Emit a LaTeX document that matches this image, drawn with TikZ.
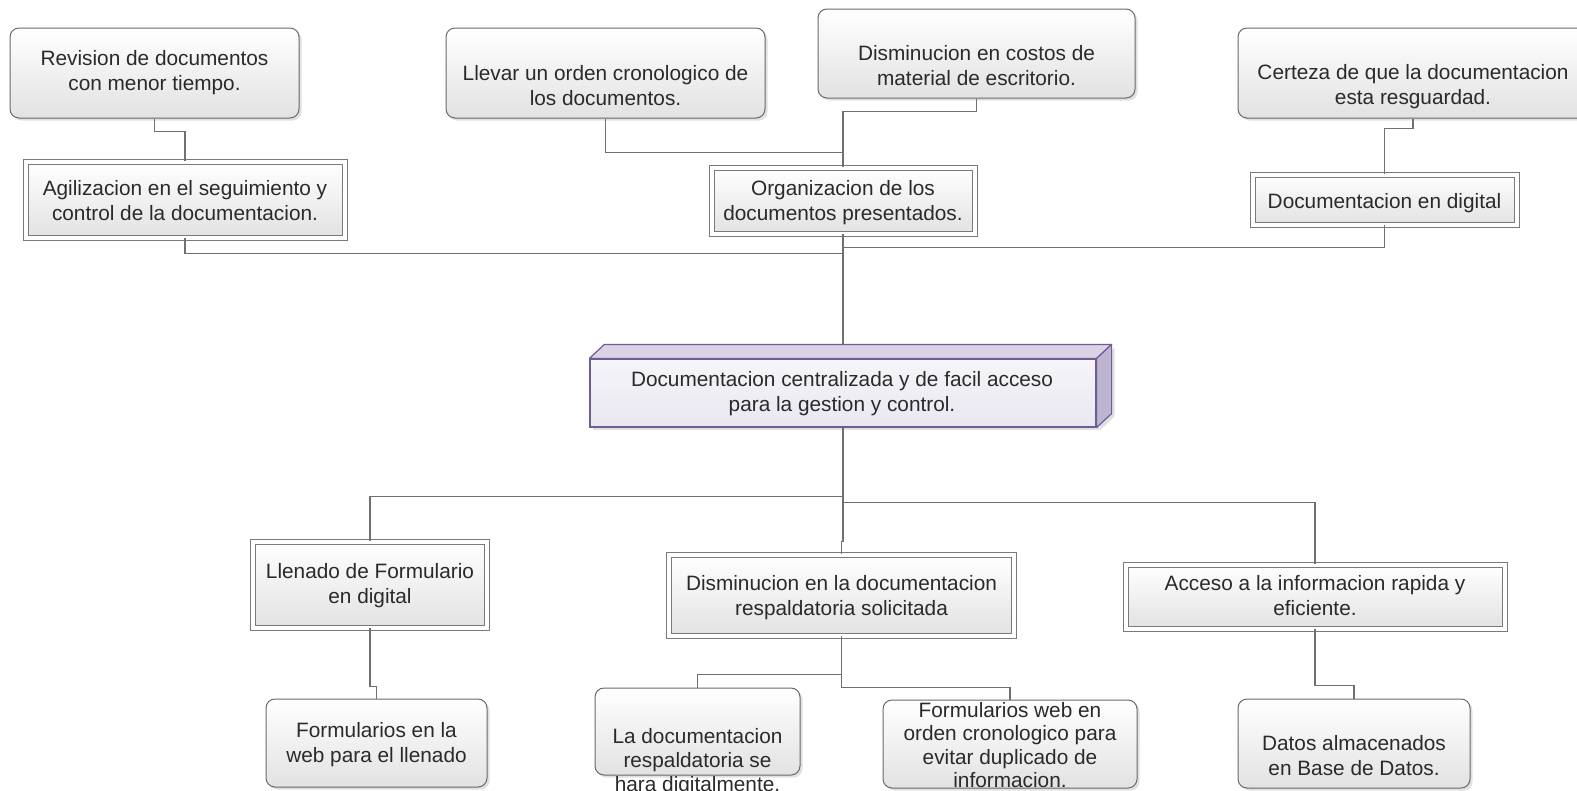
\documentclass[tikz,border=0pt]{standalone}
\usepackage{fontspec}
\setmainfont{Liberation Sans}
\usetikzlibrary{calc,shadows}

\definecolor{linegray}{HTML}{707070}
\definecolor{boxedge}{HTML}{6A6A6A}
\definecolor{frameedge}{HTML}{7A7A7A}
\definecolor{boxfill}{HTML}{E2E2E2}
\definecolor{ink}{HTML}{2A2A2A}
\definecolor{cubeedge}{HTML}{6F5C95}
\definecolor{cubefronttop}{HTML}{F6F5F9}
\definecolor{cubefrontbot}{HTML}{EAE7F0}
\definecolor{cubetop}{HTML}{D9D3E4}
\definecolor{cubeside}{HTML}{BDB4CF}

\begin{document}
\begin{tikzpicture}[x=1pt,y=-1pt,
  conn/.style={draw=linegray,line width=1.1pt},
  softbox/.style={rectangle,rounded corners=9pt,draw=boxedge,line width=1pt,
    top color=white,bottom color=boxfill,inner sep=0pt,
    drop shadow={shadow xshift=2.5pt,shadow yshift=-2.5pt,fill=black,opacity=0.12}},
  framebox/.style={rectangle,draw=frameedge,line width=1pt,double=white,
    double distance=4pt,top color=white,bottom color=boxfill,inner sep=0pt},
  lbl/.style={align=center,text=ink,inner sep=0pt,
    font=\fontsize{20.8}{25}\selectfont},
]
\useasboundingbox (0,0) rectangle (1577,790);
\clip (0,0) rectangle (1577,790);

% ---------- outer (top) ideas
\node[softbox,minimum width=289pt,minimum height=90pt] (rev)  at (154.5,73) {};
\node[softbox,minimum width=319pt,minimum height=90pt] (llev) at (605.5,73) {};
\node[softbox,minimum width=317pt,minimum height=89pt] (cost) at (976.5,53.5) {};
\node[softbox,minimum width=350pt,minimum height=90pt] (cert) at (1413,73) {};

% ---------- second level
\node[framebox,minimum width=319pt,minimum height=76pt] (agil) at (185,199.5) {};
\node[framebox,minimum width=263pt,minimum height=66pt] (org)  at (843,200.5) {};
\node[framebox,minimum width=264pt,minimum height=50pt] (ddig) at (1384.5,199.5) {};

% ---------- lower level
\node[framebox,minimum width=234pt,minimum height=86pt] (llen) at (370,584.5) {};
\node[framebox,minimum width=345pt,minimum height=81pt] (disr) at (841.5,595) {};
\node[framebox,minimum width=379pt,minimum height=64pt] (acc)  at (1315,596.5) {};

\node[softbox,minimum width=221pt,minimum height=88pt] (fweb)  at (376.5,743) {};
\node[softbox,minimum width=205pt,minimum height=87pt] (ladoc) at (697.5,731.5) {};
\node[softbox,minimum width=254pt,minimum height=88pt] (fwo)   at (1010,744) {};
\node[softbox,minimum width=232pt,minimum height=89pt] (dat)   at (1354,743.5) {};

% ---------- central block (front face)
\node[rectangle,draw=cubeedge,line width=1.2pt,top color=cubefronttop,
  bottom color=cubefrontbot,minimum width=506pt,minimum height=68pt,inner sep=0pt,
  drop shadow={shadow xshift=3pt,shadow yshift=-3pt,fill=black,opacity=0.12}]
  (core) at (843,393) {};

% ---------- connectors
\draw[conn] (rev.south) -- ($(rev.south)+(0,13)$) -| (agil.north);
\draw[conn] (llev.south) -- ($(llev.south)+(0,34)$) -| (org.north);
\draw[conn] (cost.south) -- ($(cost.south)+(0,13)$) -| (org.north);
\draw[conn] (cert.south) -- ($(cert.south)+(0,10)$) -| (ddig.north);
\draw[conn] (agil.south) |- ($(org.south)+(0,19.5)$);
\draw[conn] (ddig.south) |- ($(org.south)+(0,13.5)$);
\draw[conn] (org.south) -- (core.north);
\draw[conn] (core.south) -- ($(core.south)+(0,114)$) -| (disr.north);
\draw[conn] ($(core.south)+(0,69)$) -| (llen.north);
\draw[conn] ($(core.south)+(0,75)$) -| (acc.north);
\draw[conn] (disr.south) -- ($(disr.south)+(0,38.5)$) -| (ladoc.north);
\draw[conn] (disr.south) |- ($(fwo.north)+(0,-12)$) -- (fwo.north);
\draw[conn] (llen.south) |- ($(fweb.north)+(0,-12)$) -- (fweb.north);
\draw[conn] (acc.south) |- ($(dat.north)+(0,-13)$) -- (dat.north);

% ---------- central block (top and side faces, drawn over the trunk)
\filldraw[fill=cubetop,draw=cubeedge,line width=1.2pt,line join=round]
  (core.north west) -- ++(15,-14) -- ($(core.north east)+(15,-14)$)
  -- (core.north east) -- cycle;
\filldraw[fill=cubeside,draw=cubeedge,line width=1.2pt,line join=round,
  drop shadow={shadow xshift=3pt,shadow yshift=-3pt,fill=black,opacity=0.12}]
  (core.north east) -- ++(15,-14) -- ($(core.south east)+(15,-14)$)
  -- (core.south east) -- cycle;

% ---------- texts
\node[lbl] (revt)  at (154.5,73) {Revision de documentos\\con menor tiempo.};
\node[lbl] (llevt) at (605.5,86) {Llevar un orden cronologico de\\los documentos.};
\node[lbl] (costt) at (976.5,65.5) {Disminucion en costos de\\material de escritorio.};
\node[lbl] (certt) at (1413,87) {Certeza de que la documentacion\\esta resguardad.};
\node[lbl] (agilt) at (185,200.5) {Agilizacion en el seguimiento y\\control de la documentacion.};
\node[lbl] (orgt)  at (843,202.5) {Organizacion de los\\documentos presentados.};
\node[lbl] (ddigt) at (1384.5,203) {Documentacion en digital};
\node[lbl] (coret) at (842,394) {Documentacion centralizada y de facil acceso\\para la gestion y control.};
\node[lbl] (llent) at (370,585.5) {Llenado de Formulario\\en digital};
\node[lbl] (disrt) at (841.5,597.5) {Disminucion en la documentacion\\respaldatoria solicitada};
\node[lbl] (acct)  at (1315,595.5) {Acceso a la informacion rapida y\\eficiente.};
\node[lbl] (fwebt) at (376.5,744.5) {Formularios en la\\web para el llenado};
\node[lbl,font=\fontsize{20.8}{24}\selectfont] (ladoct) at (697.5,762) {La documentacion\\respaldatoria se\\hara digitalmente.};
\node[lbl,font=\fontsize{20.8}{23.3}\selectfont] (fwot) at (1010,745) {Formularios web en\\orden cronologico para\\evitar duplicado de\\informacion.};
\node[lbl] (datt)  at (1354,755.5) {Datos almacenados\\en Base de Datos.};
\end{tikzpicture}
\end{document}
